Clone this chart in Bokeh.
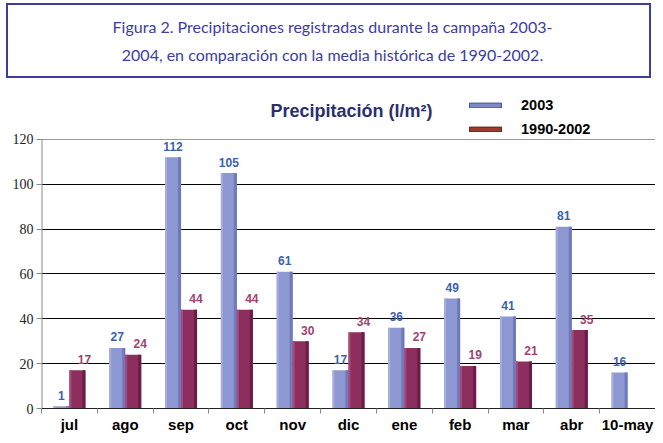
import numpy as np
from bokeh.plotting import figure
from bokeh.models import (Range1d, FixedTicker, Legend, LegendItem, Grid, Label, Div,
                          ColumnDataSource, LinearAxis)
from bokeh.layouts import column
from bokeh.embed import file_html
from bokeh.resources import INLINE
from bokeh.core.properties import value

# ---------------- data ----------------
title_lines = ["Figura 2. Precipitaciones registradas durante la campaña 2003-",
               "2004, en comparación con la media histórica de 1990-2002."]
chart_title = "Precipitación (l/m²)"
months = ["jul", "ago", "sep", "oct", "nov", "dic", "ene", "feb", "mar", "abr", "10-may"]
p2003 = [1, 27, 112, 105, 61, 17, 36, 49, 41, 81, 16]
p_hist = [17, 24, 44, 44, 30, 34, 27, 19, 21, 35, float("nan")]
series_names = ["2003", "1990-2002"]
y_ticks = [0, 20, 40, 60, 80, 100, 120]

# ---------------- styles ----------------
NAVY = "#3d3d9e"
BLUE, BLUE_D, BLUE_L = "#8d97d1", "#6f79bc", "#a5addd"
MAR, MAR_D, MAR_L = "#8c2e5e", "#6c1c45", "#a34b7b"
BLUE_TXT, MAR_TXT = "#3a62ad", "#a3416f"

# ---------------- boxed caption ----------------
caption = Div(text="<br>".join(title_lines), width=645, height=75, margin=(3, 0, 0, 6),
              styles={"border": f"2px solid {NAVY}", "box-sizing": "border-box",
                      "text-align": "center", "font-family": "Lato", "font-size": "16px",
                      "line-height": "28px", "color": NAVY, "padding-top": "8px",
                      "padding-left": "8px", "background": "white"})

# ---------------- chart ----------------
n = len(months)
centers = np.arange(n) + 0.5
bounds = np.arange(n + 1)
x_end = float(n)
FRAME_W = 614
px = x_end / FRAME_W    # one pixel in category units
bw = 16 * px            # bar width
sw = 3 * px             # shading strip width

H, TOP, BOTTOM = 357, 16, 26          # figure height, borders
frame_h = H - TOP - BOTTOM
y_top_px = 139 - 78 - TOP            # 120-line below frame top, in px
y_end = y_ticks[-1] * frame_h / (frame_h - y_top_px)

p = figure(width=655, height=H, x_range=Range1d(0, x_end), y_range=Range1d(0, y_end),
           x_axis_type=None, y_axis_type=None, output_backend="svg",
           toolbar_location=None, min_border_left=41, min_border_right=0,
           min_border_top=TOP, min_border_bottom=BOTTOM)
p.outline_line_color = None
p.background_fill_color = "white"
p.border_fill_color = "white"

yaxis = LinearAxis(ticker=FixedTicker(ticks=y_ticks), axis_line_color=None,
                   major_tick_line_color="#888888", major_tick_out=5, major_tick_in=0,
                   minor_tick_line_color=None, major_label_text_font="Liberation Serif",
                   major_label_text_font_size="14px", major_label_text_color="#222222",
                   major_label_standoff=3)
p.add_layout(yaxis, "left")
# visible part of the value axis: only from 0 to 120
p.segment(x0=[0], y0=[y_ticks[0]], x1=[0], y1=[y_ticks[-1]], line_color="#888888",
          line_width=2)

xaxis = LinearAxis(ticker=FixedTicker(ticks=list(centers), minor_ticks=list(bounds)),
                   major_label_overrides={float(c): m for c, m in zip(centers, months)},
                   major_tick_line_color=None, major_tick_out=0, major_tick_in=0,
                   minor_tick_line_color="#888888", minor_tick_out=5, minor_tick_in=0,
                   axis_line_color="#222222", major_label_text_font="Liberation Sans",
                   major_label_text_font_style="bold", major_label_text_font_size="15px",
                   major_label_text_color="black", major_label_standoff=2)
p.add_layout(xaxis, "below")

p.add_layout(Grid(dimension=1, ticker=FixedTicker(ticks=y_ticks[1:-1]),
                  grid_line_color="black", grid_line_width=1))
p.add_layout(Grid(dimension=1, ticker=FixedTicker(ticks=y_ticks[-1:]),
                  grid_line_color="#999999", grid_line_width=1))

x_a = centers - bw / 2
x_b = centers + bw / 2
src = ColumnDataSource(dict(xa=x_a, xb=x_b, a=p2003, b=p_hist,
                            ta=[str(v) for v in p2003],
                            tb=["" if np.isnan(v) else str(int(v)) for v in p_hist]))

p.vbar(x="xa", top="a", width=bw, source=src, fill_color=BLUE, line_color=None)
p.vbar(x=x_a + bw / 2 - sw / 2, top=p2003, width=sw, fill_color=BLUE_D, line_color=None)
p.vbar(x=x_a - bw / 2 + sw / 3, top=p2003, width=sw * 2 / 3, fill_color=BLUE_L, line_color=None)

p.vbar(x="xb", top="b", width=bw, source=src, fill_color=MAR, line_color=None)
p.vbar(x=x_b - bw / 2 + sw / 3, top=p_hist, width=sw * 2 / 3, fill_color=MAR_L, line_color=None)
p.vbar(x=x_b + bw / 2 - sw / 2, top=p_hist, width=sw, fill_color=MAR_D, line_color=None)

p.text(x="xa", y="a", text="ta", source=src, text_align="center", text_baseline="middle",
       y_offset=-11, text_font=value("Liberation Sans"), text_font_style="bold",
       text_font_size="12px", text_color=BLUE_TXT)
p.text(x="xb", y="b", text="tb", source=src, text_align="center", text_baseline="middle",
       x_offset=7, y_offset=-11, text_font=value("Liberation Sans"), text_font_style="bold",
       text_font_size="12px", text_color=MAR_TXT)

# chart title (inside the frame, above the 120 line)
frame_bottom = 78 + H - BOTTOM         # page y of the frame bottom
p.add_layout(Label(x=270 - 41, y=frame_bottom - 111, x_units="screen", y_units="screen",
                   text=chart_title, text_align="left", text_baseline="middle",
                   text_font="Liberation Sans", text_font_style="bold",
                   text_font_size="18px", text_color="#2b2f6e"))

# legend (swatch renderers hold no drawable point)
nan = float("nan")
r1 = p.vbar(x=[nan], top=[nan], width=0.1, fill_color="#8089c8", line_color="#4a5290",
            line_width=1)
r2 = p.vbar(x=[nan], top=[nan], width=0.1, fill_color="#9b3b2c", line_color="#6a2218",
            line_width=1)
legend = Legend(items=[LegendItem(label=series_names[0], renderers=[r1]),
                       LegendItem(label=series_names[1], renderers=[r2])],
                location=(465 - 41, frame_bottom - 140), orientation="vertical",
                glyph_width=40, glyph_height=6,
                label_standoff=16, label_height=21, spacing=3, padding=0, margin=0,
                border_line_color=None, background_fill_alpha=0,
                label_text_font="Liberation Sans", label_text_font_style="bold",
                label_text_font_size="14.5px", label_text_color="black")
p.add_layout(legend, "center")

layout = column(caption, p, spacing=0)
open("out.html", "w").write(file_html(layout, INLINE))
